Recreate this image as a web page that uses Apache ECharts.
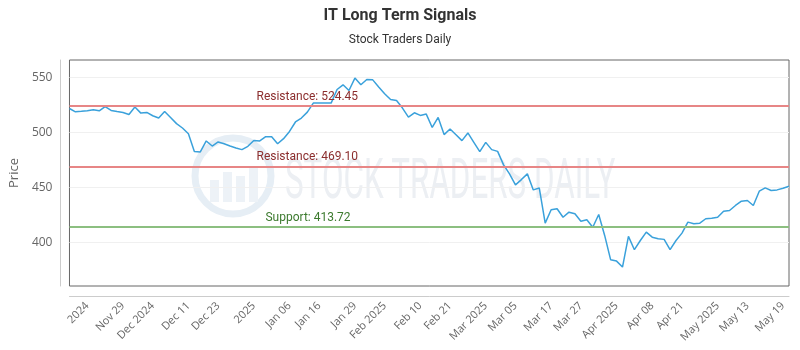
<!DOCTYPE html>
<html>
<head>
<meta charset="utf-8">
<script src="https://cdn.jsdelivr.net/npm/echarts@6/dist/echarts.min.js"></script>
<style>html,body{margin:0;padding:0;background:#fff;}#c{width:800px;height:350px;}</style>
</head>
<body>
<div id="c"></div>
<script>
// Closing prices, one per trading day
const prices = [
  521.8, 518.8, 519.2, 519.8, 520.6, 519.7, 523.6, 520.0, 519.0, 518.2,
  516.4, 523.1, 517.6, 518.2, 515.2, 513.1, 519.1, 513.6, 508.0, 504.0,
  498.8, 482.7, 482.2, 492.2, 487.6, 491.3, 489.7, 487.6, 485.8, 484.3,
  487.3, 492.7, 492.2, 496.1, 496.1, 489.7, 494.3, 500.9, 509.5, 513.1,
  518.5, 526.7, 526.7, 526.7, 526.7, 539.1, 543.4, 538.2, 549.5, 543.4,
  548.2, 547.9, 541.3, 535.2, 530.0, 529.1, 522.2, 514.0, 517.9, 515.5,
  516.7, 504.5, 513.6, 498.0, 503.1, 497.8, 492.5, 499.5, 491.0, 482.5,
  490.9, 484.3, 482.7, 470.4, 462.2, 452.2, 457.0, 462.2, 447.6, 449.4,
  417.3, 429.5, 430.4, 422.7, 427.3, 425.8, 419.1, 420.4, 413.6, 425.2,
  406.1, 384.0, 382.7, 377.3, 405.2, 393.1, 401.5, 409.1, 404.5, 403.1,
  402.5, 393.1, 401.5, 408.2, 418.2, 416.7, 417.3, 421.3, 421.8, 422.7,
  428.2, 428.8, 433.4, 437.3, 437.9, 433.4, 446.4, 449.5, 447.0, 447.6,
  449.1, 450.9
];
// Category per trading day (weekdays from 2024-11-20)
const categories = [];
(function(){
  const d = new Date(Date.UTC(2024, 10, 20));
  while (categories.length < prices.length) {
    const w = d.getUTCDay();
    if (w !== 0 && w !== 6) categories.push(d.toISOString().slice(0,10));
    d.setUTCDate(d.getUTCDate() + 1);
  }
})();
// Tick labels and the index they sit at
const tickIndex = [3, 9, 14, 20, 25, 31, 37, 42, 48, 53, 59, 64, 70, 75, 81, 86, 92, 98, 103, 109, 114, 120];
const tickLabels = ['2024', 'Nov 29', 'Dec 2024', 'Dec 11', 'Dec 23', '2025', 'Jan 06', 'Jan 16', 'Jan 29', 'Feb 2025',
  'Feb 10', 'Feb 21', 'Mar 2025', 'Mar 05', 'Mar 17', 'Mar 27', 'Apr 2025', 'Apr 08', 'Apr 21', 'May 2025', 'May 13', 'May 19'];
// Signal levels
const levelNames = ['Resistance', 'Resistance', 'Support'];
const levelValues = [524.45, 469.10, 413.72];
const yTicks = [400, 450, 500, 550];

const levelStyle = {
  Resistance: { line: '#e78686', text: '#8b2d2d', dx: 187 },
  Support: { line: '#8cbf80', text: '#3c7a2e', dx: 196 }
};

const chart = echarts.init(document.getElementById('c'), null, { renderer: 'canvas' });
chart.setOption({
  backgroundColor: '#fff',
  animation: false,
  title: {
    text: 'IT Long Term Signals',
    subtext: 'Stock Traders Daily',
    left: 'center',
    top: 3,
    itemGap: 10,
    textStyle: { fontFamily: 'Roboto', fontSize: 16, fontWeight: 'bold', color: '#333' },
    subtextStyle: { fontFamily: 'Roboto', fontSize: 12, color: '#333' }
  },
  graphic: [
    { type: 'circle', shape: { cx: 233, cy: 176, r: 38 }, style: { fill: 'none', stroke: '#e6eef5', lineWidth: 7 }, z: 0, silent: true },
    { type: 'rect', shape: { x: 210, y: 180, width: 9, height: 22 }, style: { fill: '#edf2f7' }, z: 0, silent: true },
    { type: 'rect', shape: { x: 223, y: 172, width: 9, height: 30 }, style: { fill: '#edf2f7' }, z: 0, silent: true },
    { type: 'rect', shape: { x: 236, y: 176, width: 9, height: 26 }, style: { fill: '#edf2f7' }, z: 0, silent: true },
    { type: 'rect', shape: { x: 249, y: 168, width: 9, height: 34 }, style: { fill: '#edf2f7' }, z: 0, silent: true },
    { type: 'text', x: 285, y: 156, scaleX: 0.56, z: 0, silent: true,
      style: { text: 'STOCK TRADERS DAILY', font: '56px Roboto', fill: '#eceff3', verticalAlign: 'top' } }
  ],
  grid: {
    left: 67, right: 11, top: 60, bottom: 64,
    show: true, borderColor: '#666', borderWidth: 1, backgroundColor: 'transparent'
  },
  xAxis: {
    type: 'category',
    data: categories,
    boundaryGap: false,
    offset: 10,
    axisLine: { lineStyle: { color: '#ccc' } },
    axisTick: { show: false },
    splitLine: { show: false },
    axisLabel: {
      rotate: 45,
      interval: (i) => tickIndex.indexOf(i) !== -1,
      formatter: (v, i) => tickLabels[tickIndex.indexOf(i)] || '',
      color: '#666',
      fontFamily: 'Open Sans',
      fontSize: 11,
      margin: 8
    }
  },
  yAxis: {
    type: 'value',
    min: 360,
    max: 566,
    interval: 10,
    offset: 9,
    name: 'Price',
    nameLocation: 'middle',
    nameGap: 37,
    nameTextStyle: { color: '#666', fontSize: 13, fontFamily: 'Open Sans' },
    axisLine: { show: true, lineStyle: { color: '#ccc' } },
    axisTick: { show: false },
    axisLabel: {
      color: '#666', fontSize: 12, fontFamily: 'Open Sans', margin: 8,
      formatter: (v) => yTicks.indexOf(v) !== -1 ? String(v) : ''
    },
    splitLine: {
      show: true,
      lineStyle: { color: ['rgba(0,0,0,0)', 'rgba(0,0,0,0)', 'rgba(0,0,0,0)', 'rgba(0,0,0,0)', '#f0f0f0'], width: 1 }
    }
  },
  series: [{
    type: 'line',
    data: prices,
    showSymbol: false,
    symbol: 'none',
    z: 3,
    lineStyle: { color: '#3aa1db', width: 1.5 },
    markLine: {
      silent: true,
      symbol: 'none',
      animation: false,
      data: levelValues.map((v, k) => {
        const s = levelStyle[levelNames[k]];
        return {
          yAxis: v,
          lineStyle: { color: s.line, width: 2, type: 'solid' },
          label: {
            show: true,
            position: 'insideStartTop',
            distance: [s.dx, 3],
            formatter: levelNames[k] + ': ' + v.toFixed(2),
            color: s.text,
            fontSize: 12,
            fontFamily: 'Roboto'
          }
        };
      })
    }
  }]
});
</script>
</body>
</html>
